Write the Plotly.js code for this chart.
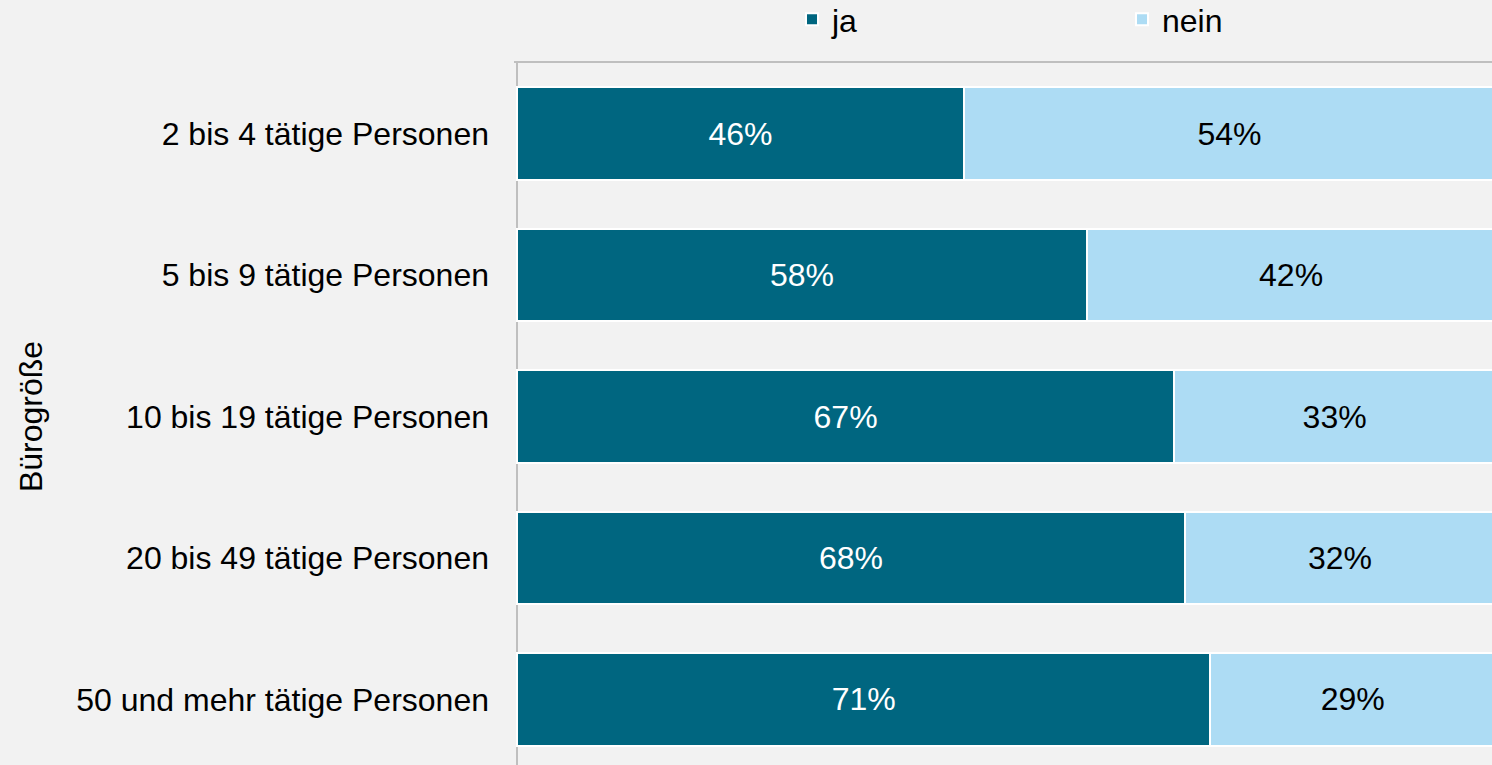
<!DOCTYPE html>
<html>
<head>
<meta charset="utf-8">
<script src="https://cdn.plot.ly/plotly-3.0.1.min.js"></script>
<style>
html,body{margin:0;padding:0;overflow:hidden;background:#f2f2f2;}
#chart{width:1500px;height:770px;}
</style>
</head>
<body>
<div id="chart"></div>
<script>
const categories = ["2 bis 4 tätige Personen", "5 bis 9 tätige Personen", "10 bis 19 tätige Personen", "20 bis 49 tätige Personen", "50 und mehr tätige Personen"];
const jaValues = [45.7, 58.3, 67.2, 68.3, 70.9];
const neinValues = [54.3, 41.7, 32.8, 31.7, 29.1];
const seriesNames = ["ja", "nein"];
const axisTitle = "Bürogröße";

const FONT = "Liberation Sans, Arial, sans-serif";
const FS = 32;

const traces = [
  {
    type: "bar", orientation: "h", name: seriesNames[0],
    y: categories, x: jaValues,
    marker: {color: "#006680", line: {color: "#ffffff", width: 2}},
    texttemplate: "%{x:.0f}%", textposition: "inside", insidetextanchor: "middle",
    textangle: 0, constraintext: "none",
    textfont: {family: FONT, size: FS, color: "#ffffff"},
    hoverinfo: "none"
  },
  {
    type: "bar", orientation: "h", name: seriesNames[1],
    y: categories, x: neinValues,
    marker: {color: "#addcf4", line: {color: "#ffffff", width: 2}},
    texttemplate: "%{x:.0f}%", textposition: "inside", insidetextanchor: "middle",
    textangle: 0, constraintext: "none",
    textfont: {family: FONT, size: FS, color: "#000000"},
    hoverinfo: "none"
  }
];

const layout = {
  width: 1500, height: 770,
  paper_bgcolor: "#f2f2f2", plot_bgcolor: "#f2f2f2",
  font: {family: FONT, size: FS, color: "#000000"},
  barmode: "stack", bargap: 0.345,
  margin: {l: 514, r: 5, t: 63, b: 0, pad: 0, autoexpand: false},
  showlegend: true,
  legend: {
    orientation: "h", xref: "container", yref: "container",
    x: 0.528, xanchor: "left", y: 1, yanchor: "top",
    entrywidth: 285, entrywidthmode: "pixels",
    font: {family: FONT, size: FS, color: "#000000"},
    bgcolor: "rgba(0,0,0,0)", traceorder: "normal"
  },
  xaxis: {
    range: [-0.3, 100], side: "top", showticklabels: false, ticks: "",
    showgrid: false, showline: true, linecolor: "#bfbfbf", linewidth: 2,
    zeroline: true, zerolinecolor: "#bfbfbf", zerolinewidth: 2,
    fixedrange: true
  },
  yaxis: {
    autorange: "reversed", type: "category", showgrid: false, showline: false,
    zeroline: false, ticks: "", ticklabelstandoff: 24,
    tickfont: {family: FONT, size: FS, color: "#000000"},
    title: {text: axisTitle, font: {family: FONT, size: FS, color: "#000000"}, standoff: 24},
    automargin: false, fixedrange: true
  }
};

Plotly.newPlot("chart", traces, layout, {displayModeBar: false, staticPlot: true}).then(function(gd){
  // nudge legend up to match reference placement
  var lg = document.querySelector("g.legend");
  if (lg) {
    var t = lg.getAttribute("transform") || "";
    var m = t.match(/translate\(([-\d.]+),\s*([-\d.]+)\)/);
    if (m) lg.setAttribute("transform", "translate(" + m[1] + "," + (parseFloat(m[2]) - 8) + ")");
  }
});
</script>
</body>
</html>
